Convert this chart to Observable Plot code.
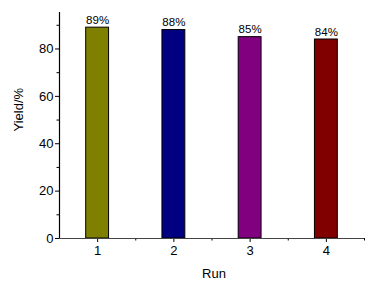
<!DOCTYPE html>
<html><head><meta charset="utf-8">
<script src="https://cdn.jsdelivr.net/npm/d3@7"></script>
<script src="https://cdn.jsdelivr.net/npm/@observablehq/plot@0.6"></script>
<style>body{margin:0;background:#fff}</style>
</head><body><div id="chart"></div>
<script>
const runs = [1, 2, 3, 4];
const yields = [89, 88, 85, 84];
const labels = ["89%", "88%", "85%", "84%"];
const colors = ["#808000", "#000080", "#800080", "#800000"];
const yMajor = [0, 20, 40, 60, 80];
const yMinor = [10, 30, 50, 70, 90];
const xMajor = [1, 2, 3, 4];
const xMinor = [1.5, 2.5, 3.5, 4.5];

const data = runs.map((r, i) => ({run: r, y: yields[i], label: labels[i], color: colors[i]}));
const half = 0.15;

const chart = Plot.plot({
  width: 378, height: 282,
  marginLeft: 59, marginRight: 14, marginTop: 12, marginBottom: 44,
  style: {fontFamily: "Liberation Sans, Arial, sans-serif", background: "#fff"},
  x: {type: "linear", domain: [0.5, 4.5]},
  y: {domain: [0, 95.4]},
  marks: [
    Plot.rectY(data, {x1: d => d.run - half, x2: d => d.run + half, y: "y", fill: "color", stroke: "#000", strokeWidth: 1}),
    Plot.text(data, {x: "run", y: "y", text: "label", lineAnchor: "bottom", dy: -4, fontSize: 11.5, fill: "#000"}),
    Plot.axisY({ticks: yMajor, tickSize: 4, tickPadding: 2, fontSize: 13, label: null, stroke: "#000", fill: "#000"}),
    Plot.axisY({ticks: yMinor, tickSize: 2.5, text: null, label: null}),
    Plot.axisX({ticks: xMajor, tickSize: 4, tickPadding: 3, fontSize: 13, label: null, tickFormat: d => d}),
    Plot.axisX({ticks: xMinor, tickSize: 2.5, text: null, label: null}),
    Plot.ruleX([0.5], {stroke: "#000", strokeWidth: 1.2}),
    Plot.ruleY([0], {stroke: "#444", strokeWidth: 1.2}),
    Plot.text(["Yield/%"], {frameAnchor: "left", dx: -41, dy: 6, rotate: -90, fontSize: 13, fill: "#000"}),
    Plot.text(["Run"], {frameAnchor: "bottom", dy: 35, fontSize: 13, fill: "#000", lineAnchor: "middle", dx: 2})
  ]
});
document.getElementById("chart").appendChild(chart);
</script></body></html>
